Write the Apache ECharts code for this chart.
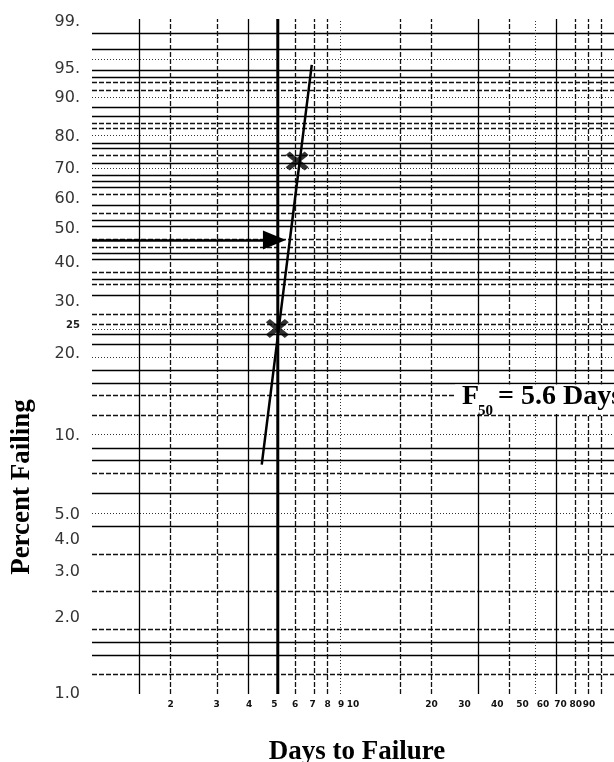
<!DOCTYPE html>
<html><head><meta charset="utf-8">
<script src="https://cdn.jsdelivr.net/npm/echarts@6/dist/echarts.min.js"></script>
<style>html,body{margin:0;padding:0;background:#fff}#c{width:614px;height:762px}</style>
</head><body><div id="c"></div>
<script>
// ---- data (Weibull probability paper) ----
const yLabelValues = [99, 95, 90, 80, 70, 60, 50, 40, 30, 25, 20, 10, 5, 4, 3, 2, 1];
const yLabelTexts  = ['99.', '95.', '90.', '80.', '70.', '60.', '50.', '40.', '30.', '25', '20.', '10.', '5.0', '4.0', '3.0', '2.0', '1.0'];
const xLabelValues = [2, 3, 4, 5, 6, 7, 8, 9, 10, 20, 30, 40, 50, 60, 70, 80, 90];

// horizontal grid lines (percent failing)
const hSolid  = [98.4, 97.2, 94.7, 93.8, 88.0, 85.5, 78.2, 76.4, 71.9, 68.0, 65.7, 64.0, 57.6, 53.0, 50.8, 42.9, 40.9, 35.7, 31.5, 23.5, 21.7, 17.5, 15.7, 9.0, 8.1, 6.1, 4.55, 1.6, 1.42];
const hDashed = [92.8, 91.5, 83.9, 82.3, 74.5, 61.3, 55.3, 46.7, 44.6, 37.3, 34.2, 27.3, 25.4, 14.1, 12.0, 7.2, 3.5, 2.55, 1.8, 1.2];
const hDotted = [99.1, 96.2, 90.2, 80.3, 70.0, 24.2, 19.5, 10.2, 5.1];
// vertical grid lines (days)
const vSolid  = [1.5, 4, 30, 60];
const vDashed = [2, 3, 6, 7, 8, 15, 20, 40, 70, 80, 90];
const vDotted = [9, 50];

// plotted data
const fitLineDays = [4.47, 6.95];
const fitLinePct  = [7.8, 95.5];
const pointDays   = [5.13, 6.11];
const pointPct    = [24.5, 72.5];
const markerLineDays = 5.15;
const markerLinePct  = [99.1, 1.0];
const arrowDays = [1, 5.0];
const arrowPct  = 46.7;

// ---- scales ----
const W = p => Math.log(-Math.log(1 - p / 100));   // Weibull ordinate
const L = d => Math.log10(d);                       // log abscissa

const hMark = vals => vals.map(p => ({ yAxis: W(p) }));
const vMark = vals => vals.map(d => ({ xAxis: L(d) }));

function gridSeries(data, lineStyle) {
  return {
    type: 'line', data: [], silent: true, animation: false,
    markLine: {
      silent: true, animation: false, symbol: ['none', 'none'],
      label: { show: false }, emphasis: { disabled: true },
      lineStyle: lineStyle, data: data
    }
  };
}

const chart = echarts.init(document.getElementById('c'), null, { renderer: 'canvas' });

const xSym = 'path://M0,3.5 L3.5,0 L10,6.5 L16.5,0 L20,3.5 L13.5,10 L20,16.5 L16.5,20 L10,13.5 L3.5,20 L0,16.5 L6.5,10 Z';

chart.setOption({
  animation: false,
  backgroundColor: '#fff',
  grid: { left: 92, top: 19, width: 531, height: 675, containLabel: false },
  xAxis: {
    type: 'value', min: 0, max: 2,
    axisLine: { show: false }, axisTick: { show: false }, splitLine: { show: false },
    axisLabel: {
      customValues: xLabelValues.map(L),
      margin: 6,
      formatter: v => {
        const d = Math.round(Math.pow(10, v));
        return d >= 30 ? '{u|' + d + '}' : '{n|' + d + '}';
      },
      rich: {
        n: { fontSize: 9, fontWeight: 'bold', fontFamily: 'DejaVu Sans', color: '#111' },
        u: { fontSize: 9, fontWeight: 'bold', fontFamily: 'DejaVu Sans', color: '#111', padding: [0, 26, 0, 0] }
      }
    }
  },
  yAxis: {
    type: 'value', min: W(1.0), max: W(99.1),
    axisLine: { show: false }, axisTick: { show: false }, splitLine: { show: false },
    axisLabel: {
      customValues: yLabelValues.map(W),
      margin: 12,
      fontSize: 16, fontFamily: 'DejaVu Sans', color: '#333',
      formatter: v => {
        let bi = 0, bd = Infinity;
        yLabelValues.forEach((p, i) => { const d = Math.abs(W(p) - v); if (d < bd) { bd = d; bi = i; } });
        return yLabelValues[bi] === 25 ? '{s|25}' : yLabelTexts[bi];
      },
      rich: { s: { fontSize: 10, fontWeight: 'bold', fontFamily: 'DejaVu Sans', color: '#222' } }
    }
  },
  series: [
    gridSeries(hMark(hSolid), { color: '#000', width: 1.3, type: 'solid' }),
    gridSeries(hMark(hDashed), { color: '#111', width: 1.3, type: [5, 2] }),
    gridSeries(hMark(hDotted), { color: '#333', width: 1, type: [1, 2] }),
    gridSeries(vMark(vSolid), { color: '#000', width: 1.3, type: 'solid' }),
    gridSeries(vMark(vDashed), { color: '#111', width: 1.3, type: [5, 2] }),
    gridSeries(vMark(vDotted), { color: '#333', width: 1, type: [1, 2] }),
    {
      type: 'line', silent: true, symbol: 'none',
      data: markerLinePct.map(p => [L(markerLineDays), W(p)]),
      lineStyle: { color: '#000', width: 3 }, z: 5
    },
    {
      type: 'line', silent: true, symbol: 'none',
      data: fitLineDays.map((d, i) => [L(d), W(fitLinePct[i])]),
      lineStyle: { color: '#000', width: 2.5 }, z: 6
    },
    {
      type: 'scatter', silent: true, symbol: xSym, symbolSize: [23, 19],
      data: pointDays.map((d, i) => [L(d), W(pointPct[i])]),
      itemStyle: { color: '#000' }, z: 7
    },
    {
      type: 'line', data: [], silent: true, z: 8,
      markLine: {
        silent: true, animation: false, symbol: ['none', 'triangle'], symbolSize: [19, 23],
        label: { show: false }, emphasis: { disabled: true },
        lineStyle: { color: '#000', width: 2.5, type: 'solid' },
        itemStyle: { color: '#000' },
        data: [[{ coord: [L(arrowDays[0]), W(arrowPct)] }, { coord: [L(arrowDays[1]), W(arrowPct)] }]]
      }
    }
  ],
  graphic: [
    { type: 'rect', shape: { x: 455, y: 384.5, width: 170, height: 29.5 }, style: { fill: '#fff' }, z: 100 },
    { type: 'text', x: 462, y: 397, z: 101, style: { text: 'F', font: 'bold 28px "Liberation Serif"', fill: '#000', verticalAlign: 'middle' } },
    { type: 'text', x: 478, y: 411, z: 101, style: { text: '50', font: 'bold 15px "Liberation Serif"', fill: '#000', verticalAlign: 'middle' } },
    { type: 'text', x: 498, y: 397, z: 101, style: { text: '= 5.6 Days', font: 'bold 28px "Liberation Serif"', fill: '#000', verticalAlign: 'middle' } },
    { type: 'text', x: 22, y: 487, rotation: Math.PI / 2, z: 101, style: { text: 'Percent Failing', font: 'bold 27px "Liberation Serif"', fill: '#000', align: 'center', verticalAlign: 'middle' } },
    { type: 'text', x: 357, y: 752, z: 101, style: { text: 'Days to Failure', font: 'bold 27px "Liberation Serif"', fill: '#000', align: 'center', verticalAlign: 'middle' } }
  ]
});
</script>
</body></html>
